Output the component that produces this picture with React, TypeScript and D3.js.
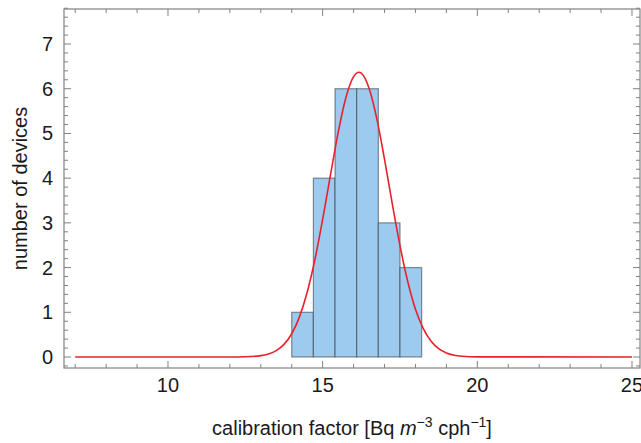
import React from 'react';
import * as d3 from 'd3';

// histogram bins (calibration factor) and device counts
const binEdges = [14.0, 14.7, 15.4, 16.1, 16.8, 17.5, 18.2];
const counts = [1, 4, 6, 6, 3, 2];

// fitted normal curve
const curveX = [7, 12, 12.5, 13, 13.25, 13.5, 13.75, 14, 14.25, 14.5, 14.75, 15, 15.25, 15.5, 15.75, 16, 16.17, 16.25, 16.5, 16.75, 17, 17.25, 17.5, 17.75, 18, 18.25, 18.5, 18.75, 19, 19.25, 19.5, 20, 25];
const curveY = [0, 0.001, 0.005, 0.03, 0.069, 0.144, 0.283, 0.52, 0.898, 1.45, 2.18, 3.08, 4.06, 5.02, 5.8, 6.27, 6.37, 6.35, 6.01, 5.33, 4.42, 3.43, 2.49, 1.69, 1.07, 0.64, 0.356, 0.185, 0.09, 0.041, 0.018, 0.003, 0];

const xMajor = [10, 15, 20, 25];
const yMajor = [0, 1, 2, 3, 4, 5, 6, 7];

const W = 641;
const H = 443;
const left = 64, right = 640, top = 9, bottom = 368;

const App = () => {
  const x = d3.scaleLinear().domain([6.638, 25.259]).range([left, right]);
  const y = d3.scaleLinear().domain([-0.246, 7.783]).range([bottom, top]);

  const xMinor = d3.range(7, 26, 1).filter(v => !xMajor.includes(v));
  const yMinor = d3.range(-0.2, 7.81, 0.2)
    .map(v => Math.round(v * 10) / 10)
    .filter(v => !yMajor.includes(v));

  const line = d3.line<number>()
    .x((d, i) => x(curveX[i]))
    .y(d => y(d))
    .curve(d3.curveMonotoneX);

  const frame = '#808080';
  const font = 'Liberation Sans, Arial, sans-serif';
  const fs = 20;

  return (
    <svg width={W} height={H} style={{ position: 'absolute', left: 0, top: 0, background: '#fff' }}>
      {/* bars */}
      {counts.map((c, i) => (
        <rect key={i}
          x={x(binEdges[i])}
          y={y(c)}
          width={x(binEdges[i + 1]) - x(binEdges[i])}
          height={y(0) - y(c)}
          fill="#9dcbef"
          stroke="rgba(50,55,60,0.55)"
          strokeWidth={1.2} />
      ))}

      {/* fitted curve */}
      <path d={line(curveY) || ''} fill="none" stroke="#e8212b" strokeWidth={1.6} />

      {/* frame */}
      <rect x={left} y={top} width={right - left} height={bottom - top} fill="none" stroke={frame} strokeWidth={1.2} />

      {/* x ticks, bottom and top */}
      {xMajor.map(v => (
        <g key={'xM' + v} stroke={frame} strokeWidth={1}>
          <line x1={x(v)} x2={x(v)} y1={bottom} y2={bottom - 7} />
          <line x1={x(v)} x2={x(v)} y1={top} y2={top + 7} />
        </g>
      ))}
      {xMinor.map(v => (
        <g key={'xm' + v} stroke={frame} strokeWidth={1}>
          <line x1={x(v)} x2={x(v)} y1={bottom} y2={bottom - 4} />
          <line x1={x(v)} x2={x(v)} y1={top} y2={top + 4} />
        </g>
      ))}

      {/* y ticks, left and right */}
      {yMajor.map(v => (
        <g key={'yM' + v} stroke={frame} strokeWidth={1}>
          <line x1={left} x2={left + 7} y1={y(v)} y2={y(v)} />
          <line x1={right} x2={right - 7} y1={y(v)} y2={y(v)} />
        </g>
      ))}
      {yMinor.map(v => (
        <g key={'ym' + v} stroke={frame} strokeWidth={1}>
          <line x1={left} x2={left + 4} y1={y(v)} y2={y(v)} />
          <line x1={right} x2={right - 4} y1={y(v)} y2={y(v)} />
        </g>
      ))}

      {/* tick labels */}
      {xMajor.map(v => (
        <text key={'xl' + v} x={x(v)} y={bottom + 24} textAnchor="middle"
          fontFamily={font} fontSize={fs} fill="#1a1a1a">{v}</text>
      ))}
      {yMajor.map(v => (
        <text key={'yl' + v} x={left - 11} y={y(v) + 7} textAnchor="end"
          fontFamily={font} fontSize={fs} fill="#1a1a1a">{v}</text>
      ))}

      {/* axis titles */}
      <text x={352} y={435} textAnchor="middle" fontFamily={font} fontSize={fs} fill="#1a1a1a">
        calibration factor [Bq <tspan fontStyle="italic">m</tspan>
        <tspan dy={-8} fontSize={14}>−3</tspan>
        <tspan dy={8}> cph</tspan>
        <tspan dy={-8} fontSize={14}>−1</tspan>
        <tspan dy={8}>]</tspan>
      </text>
      <text transform={`translate(27,${(top + bottom) / 2}) rotate(-90)`} textAnchor="middle"
        fontFamily={font} fontSize={fs} fill="#1a1a1a">number of devices</text>
    </svg>
  );
};

export default App;
